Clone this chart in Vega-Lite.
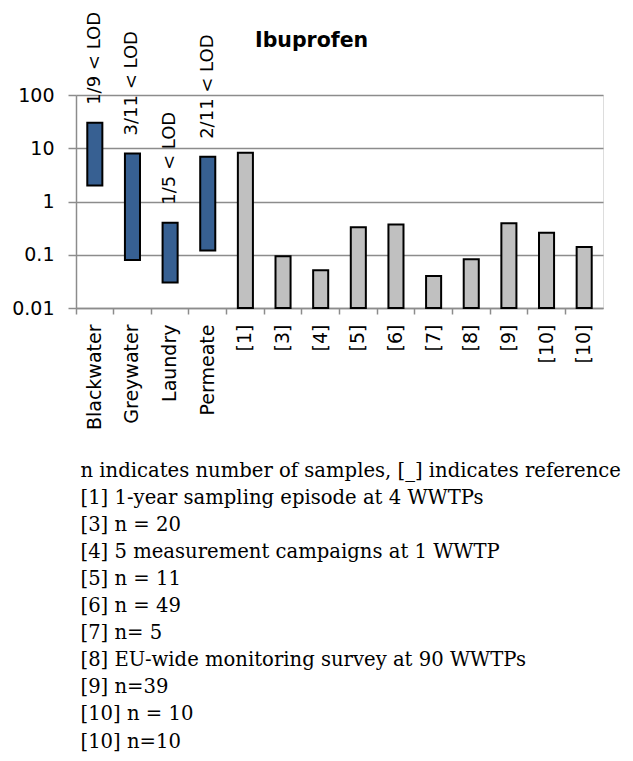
{
  "$schema": "https://vega.github.io/schema/vega-lite/v6.json",
  "width": 527,
  "height": 213,
  "autosize": {"type": "none"},
  "padding": {"left": 76, "top": 95, "right": 30, "bottom": 453},
  "background": "white",
  "title": {
    "text": "Ibuprofen",
    "anchor": "start",
    "frame": "group",
    "dx": 179,
    "offset": -56,
    "baseline": "alphabetic",
    "font": "DejaVu Sans",
    "fontSize": 20.5,
    "fontWeight": "bold",
    "color": "black"
  },
  "data": {
    "values": [
      {"cat": "Blackwater", "low": 2, "high": 30, "kind": "range", "note": "1/9 < LOD"},
      {"cat": "Greywater", "low": 0.08, "high": 8, "kind": "range", "note": "3/11 < LOD"},
      {"cat": "Laundry", "low": 0.03, "high": 0.4, "kind": "range", "note": "1/5 < LOD"},
      {"cat": "Permeate", "low": 0.12, "high": 6.9, "kind": "range", "note": "2/11 < LOD"},
      {"cat": "[1]", "low": 0.01, "high": 8.2, "kind": "literature"},
      {"cat": "[3]", "low": 0.01, "high": 0.094, "kind": "literature"},
      {"cat": "[4]", "low": 0.01, "high": 0.051, "kind": "literature"},
      {"cat": "[5]", "low": 0.01, "high": 0.33, "kind": "literature"},
      {"cat": "[6]", "low": 0.01, "high": 0.37, "kind": "literature"},
      {"cat": "[7]", "low": 0.01, "high": 0.04, "kind": "literature"},
      {"cat": "[8]", "low": 0.01, "high": 0.082, "kind": "literature"},
      {"cat": "[9]", "low": 0.01, "high": 0.39, "kind": "literature"},
      {"cat": "[10]", "low": 0.01, "high": 0.26, "kind": "literature"},
      {"cat": "[10]#2", "low": 0.01, "high": 0.14, "kind": "literature"}
    ]
  },
  "encoding": {
    "x": {
      "field": "cat",
      "type": "nominal",
      "sort": null,
      "scale": {"paddingInner": 0, "paddingOuter": 0},
      "axis": {
        "bandPosition": 0,
        "labelExpr": "replace(datum.value, '#2', '')",
        "labelAngle": 270,
        "labelAlign": "right",
        "labelBaseline": "middle",
        "labelPadding": 10,
        "labelFont": "DejaVu Sans",
        "labelFontSize": 19,
        "labelColor": "black",
        "tickSize": 6,
        "tickColor": "#8c8c8c",
        "tickWidth": 1.5,
        "domainColor": "#8c8c8c",
        "domainWidth": 1.5,
        "grid": false,
        "title": [
          "n indicates number of samples, [_] indicates reference",
          "[1] 1-year sampling episode at 4 WWTPs",
          "[3] n = 20",
          "[4] 5 measurement campaigns at 1 WWTP",
          "[5] n = 11",
          "[6] n = 49",
          "[7] n= 5",
          "[8] EU-wide monitoring survey at 90 WWTPs",
          "[9] n=39",
          "[10] n = 10",
          "[10] n=10"
        ],
        "titleFont": "DejaVu Serif",
        "titleFontSize": 19.6,
        "titleFontWeight": "normal",
        "titleColor": "black",
        "titleLineHeight": 27.1,
        "titleAlign": "left",
        "titleAnchor": "start",
        "titleBaseline": "alphabetic",
        "titleX": 4,
        "titleY": 168
      }
    }
  },
  "layer": [
    {
      "mark": {"type": "bar", "width": {"band": 0.4}, "stroke": "black", "strokeWidth": 2},
      "encoding": {
        "y": {
          "field": "high",
          "type": "quantitative",
          "scale": {"type": "log", "domain": [0.01, 100], "nice": false},
          "axis": {
            "values": [0.01, 0.1, 1, 10, 100],
            "labelExpr": "'' + datum.value",
            "labelFont": "DejaVu Sans",
            "labelFontSize": 19,
            "labelColor": "black",
            "labelPadding": 14,
            "tickSize": 8,
            "tickColor": "#8c8c8c",
            "tickWidth": 1.5,
            "domainColor": "#8c8c8c",
            "domainWidth": 1.5,
            "grid": true,
            "gridColor": "#8c8c8c",
            "gridWidth": 1.5,
            "title": null
          }
        },
        "y2": {"field": "low"},
        "color": {
          "field": "kind",
          "type": "nominal",
          "scale": {"domain": ["range", "literature"], "range": ["#376092", "#c0c0c0"]},
          "legend": null
        }
      }
    },
    {
      "transform": [{"filter": "datum.note"}],
      "mark": {
        "type": "text",
        "angle": 270,
        "align": "left",
        "baseline": "middle",
        "dx": 18,
        "font": "DejaVu Sans",
        "fontSize": 18,
        "color": "black"
      },
      "encoding": {
        "y": {"field": "high", "type": "quantitative"},
        "text": {"field": "note"}
      }
    }
  ]
}
